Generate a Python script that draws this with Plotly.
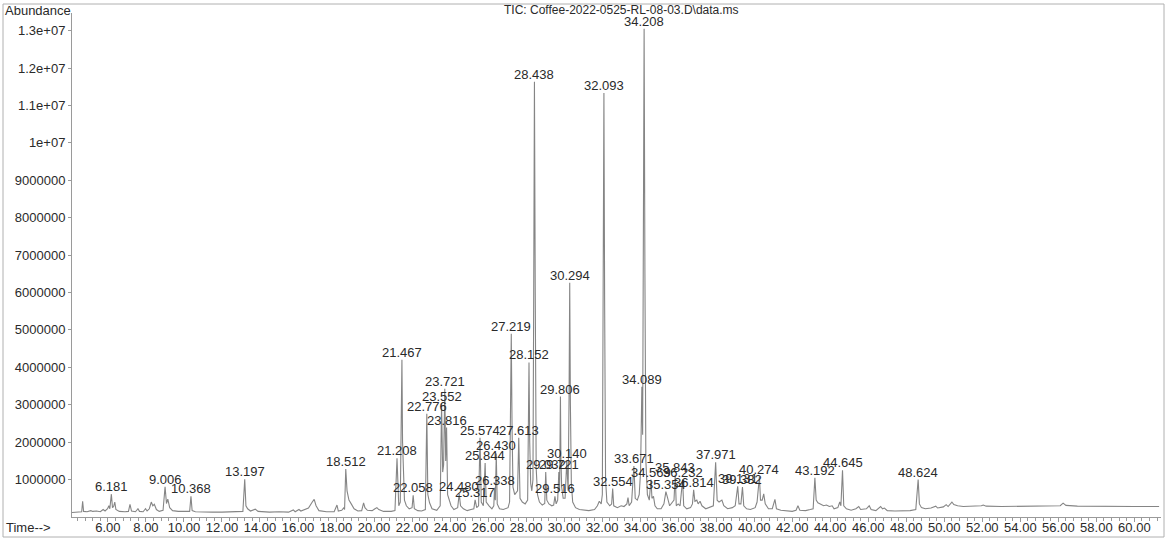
import plotly.graph_objects as go

# ---- chromatogram vertices: (retention time [min], abundance) ----
seg_04_21 = [
    (4.11, 0.12e6), (4.50, 0.13e6), (4.62, 0.14e6), (4.67, 0.42e6), (4.72, 0.15e6), (4.90, 0.14e6),
    (5.10, 0.17e6), (5.20, 0.15e6), (5.40, 0.16e6), (5.60, 0.14e6), (5.75, 0.20e6), (5.85, 0.16e6),
    (5.98, 0.22e6), (6.05, 0.30e6), (6.10, 0.22e6), (6.181, 0.61e6), (6.24, 0.25e6), (6.30, 0.28e6),
    (6.36, 0.40e6), (6.42, 0.20e6), (6.60, 0.15e6), (6.90, 0.14e6), (7.08, 0.15e6), (7.16, 0.34e6),
    (7.24, 0.16e6), (7.45, 0.14e6), (7.58, 0.22e6), (7.66, 0.15e6), (7.85, 0.14e6), (7.98, 0.22e6),
    (8.06, 0.16e6), (8.18, 0.22e6), (8.28, 0.40e6), (8.36, 0.30e6), (8.44, 0.34e6), (8.55, 0.20e6),
    (8.70, 0.15e6), (8.90, 0.18e6), (9.006, 0.81e6), (9.08, 0.36e6), (9.15, 0.48e6), (9.25, 0.25e6),
    (9.40, 0.17e6), (9.70, 0.15e6), (10.00, 0.14e6), (10.30, 0.15e6), (10.368, 0.55e6), (10.43, 0.17e6),
    (10.60, 0.14e6), (11.00, 0.13e6), (11.50, 0.13e6), (12.00, 0.13e6), (12.50, 0.14e6), (12.85, 0.15e6),
    (13.10, 0.15e6), (13.197, 1.01e6), (13.26, 0.30e6), (13.35, 0.22e6), (13.50, 0.16e6), (13.75, 0.21e6),
    (13.90, 0.15e6), (14.50, 0.13e6), (15.00, 0.14e6), (15.50, 0.13e6), (15.75, 0.19e6), (15.85, 0.14e6),
    (16.05, 0.20e6), (16.15, 0.16e6), (16.35, 0.20e6), (16.55, 0.24e6), (16.75, 0.40e6), (16.85, 0.47e6),
    (16.95, 0.30e6), (17.10, 0.17e6), (17.50, 0.14e6), (17.90, 0.14e6), (18.05, 0.32e6), (18.12, 0.16e6),
    (18.30, 0.18e6), (18.40, 0.24e6), (18.45, 0.20e6), (18.512, 1.28e6), (18.58, 0.70e6), (18.68, 0.45e6),
    (18.80, 0.35e6), (18.95, 0.22e6), (19.15, 0.16e6), (19.35, 0.17e6), (19.45, 0.38e6), (19.52, 0.25e6),
    (19.65, 0.18e6), (19.90, 0.17e6), (20.05, 0.22e6), (20.15, 0.25e6), (20.25, 0.20e6), (20.50, 0.15e6),
    (20.90, 0.15e6),
]
seg_21_27 = [
    (21.10, 0.17e6), (21.208, 1.57e6), (21.30, 0.30e6), (21.38, 0.40e6), (21.43, 2.20e6), (21.467, 4.20e6),
    (21.50, 2.00e6), (21.54, 1.00e6),
    (21.60, 0.45e6), (21.70, 0.30e6), (21.85, 0.22e6), (22.00, 0.25e6), (22.058, 0.58e6), (22.12, 0.22e6),
    (22.30, 0.17e6), (22.50, 0.16e6), (22.70, 0.20e6), (22.776, 2.76e6), (22.83, 0.60e6), (22.92, 0.38e6),
    (23.05, 0.22e6), (23.30, 0.18e6), (23.48, 0.30e6), (23.552, 3.03e6), (23.61, 1.20e6), (23.66, 1.40e6),
    (23.721, 3.43e6), (23.77, 1.50e6), (23.816, 2.39e6), (23.87, 0.60e6), (23.95, 0.45e6), (24.05, 0.30e6),
    (24.20, 0.20e6), (24.40, 0.25e6), (24.480, 0.62e6), (24.55, 0.30e6), (24.70, 0.22e6), (24.90, 0.17e6),
    (25.10, 0.20e6), (25.25, 0.22e6), (25.317, 0.46e6), (25.40, 0.25e6), (25.50, 0.30e6), (25.574, 2.12e6),
    (25.64, 0.40e6), (25.75, 0.30e6), (25.844, 1.44e6), (25.90, 0.40e6), (26.05, 0.30e6), (26.20, 0.22e6),
    (26.30, 0.30e6), (26.338, 0.78e6), (26.38, 0.45e6), (26.430, 1.70e6), (26.48, 0.35e6), (26.60, 0.22e6),
    (26.80, 0.20e6),
]
seg_27_32 = [
    (27.05, 0.25e6), (27.13, 0.40e6), (27.18, 2.60e6), (27.219, 4.90e6), (27.26, 2.40e6), (27.31, 0.80e6),
    (27.40, 0.60e6), (27.55, 0.70e6),
    (27.613, 2.12e6), (27.68, 0.50e6), (27.80, 0.40e6), (27.95, 0.35e6), (28.08, 0.45e6), (28.12, 2.20e6),
    (28.152, 4.13e6), (28.19, 2.00e6),
    (28.24, 0.90e6), (28.30, 0.70e6), (28.36, 1.00e6), (28.40, 6.00e6), (28.438, 11.63e6), (28.48, 6.00e6),
    (28.53, 1.30e6), (28.60, 0.60e6),
    (28.70, 0.40e6), (28.85, 0.32e6), (28.98, 0.36e6), (29.032, 1.20e6), (29.09, 0.45e6), (29.20, 0.35e6),
    (29.35, 0.30e6), (29.45, 0.32e6), (29.516, 0.55e6), (29.58, 0.35e6), (29.66, 0.45e6), (29.721, 1.20e6),
    (29.76, 0.70e6), (29.78, 1.70e6), (29.806, 3.22e6), (29.83, 1.60e6), (29.87, 0.80e6), (29.95, 0.50e6),
    (30.05, 0.50e6), (30.140, 1.50e6),
    (30.21, 0.70e6), (30.26, 3.20e6), (30.294, 6.26e6), (30.33, 3.00e6), (30.38, 0.90e6), (30.45, 0.40e6),
    (30.60, 0.25e6), (30.80, 0.20e6),
    (31.00, 0.18e6), (31.30, 0.17e6), (31.60, 0.20e6), (31.75, 0.30e6),
]
seg_32_35 = [
    (31.85, 0.42e6), (31.95, 0.35e6), (32.01, 0.60e6), (32.05, 6.00e6), (32.093, 11.33e6), (32.13, 5.80e6),
    (32.18, 1.00e6), (32.25, 0.40e6),
    (32.40, 0.30e6), (32.50, 0.35e6), (32.554, 0.76e6), (32.61, 0.30e6), (32.80, 0.25e6), (33.00, 0.30e6),
    (33.15, 0.28e6), (33.30, 0.35e6), (33.36, 0.52e6), (33.42, 0.30e6), (33.55, 0.40e6), (33.671, 1.36e6),
    (33.74, 0.50e6), (33.85, 0.45e6), (33.95, 0.60e6), (34.02, 1.20e6), (34.06, 2.40e6), (34.089, 3.48e6),
    (34.13, 2.20e6), (34.16, 6.50e6), (34.208, 13.05e6), (34.25, 6.50e6), (34.30, 1.50e6), (34.38, 0.60e6),
    (34.48, 0.45e6), (34.569, 1.00e6), (34.62, 0.50e6),
    (34.70, 0.55e6), (34.78, 0.30e6),
]
seg_35_49 = [
    (34.90, 0.22e6), (35.10, 0.22e6), (35.25, 0.35e6), (35.354, 0.68e6), (35.45, 0.50e6), (35.55, 0.30e6),
    (35.78, 0.45e6), (35.843, 1.13e6), (35.90, 0.30e6), (36.00, 0.35e6), (36.10, 0.30e6), (36.232, 1.00e6),
    (36.29, 0.30e6), (36.45, 0.22e6), (36.65, 0.25e6), (36.75, 0.35e6), (36.814, 0.73e6), (36.88, 0.42e6),
    (36.98, 0.45e6), (37.05, 0.35e6), (37.15, 0.42e6), (37.25, 0.30e6), (37.45, 0.22e6), (37.65, 0.25e6),
    (37.85, 0.30e6), (37.971, 1.46e6), (38.05, 0.45e6), (38.15, 0.40e6), (38.30, 0.45e6), (38.40, 0.30e6),
    (38.60, 0.22e6), (38.85, 0.25e6), (39.00, 0.30e6), (39.131, 0.82e6), (39.20, 0.35e6), (39.30, 0.35e6),
    (39.382, 0.80e6), (39.45, 0.30e6), (39.60, 0.22e6), (39.80, 0.20e6), (40.05, 0.25e6), (40.15, 0.40e6),
    (40.274, 1.08e6), (40.33, 0.45e6), (40.42, 0.45e6), (40.50, 0.62e6), (40.58, 0.35e6), (40.75, 0.22e6),
    (40.95, 0.22e6), (41.09, 0.47e6), (41.17, 0.22e6), (41.40, 0.18e6), (41.70, 0.16e6), (42.00, 0.15e6),
    (42.20, 0.18e6), (42.30, 0.30e6), (42.40, 0.18e6), (42.70, 0.17e6), (42.95, 0.20e6), (43.10, 0.22e6),
    (43.192, 1.05e6), (43.26, 0.45e6), (43.35, 0.38e6), (43.50, 0.35e6), (43.65, 0.30e6), (43.80, 0.32e6),
    (43.95, 0.28e6), (44.10, 0.30e6), (44.20, 0.22e6), (44.40, 0.25e6), (44.50, 0.40e6), (44.56, 0.30e6),
    (44.645, 1.25e6), (44.71, 0.30e6), (44.85, 0.22e6), (45.10, 0.18e6), (45.35, 0.22e6), (45.50, 0.28e6),
    (45.60, 0.20e6), (45.90, 0.22e6), (46.05, 0.30e6), (46.15, 0.20e6), (46.40, 0.17e6), (46.65, 0.28e6),
    (46.75, 0.22e6), (46.85, 0.24e6), (47.00, 0.17e6), (47.40, 0.16e6), (47.80, 0.16e6), (48.20, 0.17e6),
    (48.50, 0.20e6), (48.624, 1.00e6), (48.69, 0.35e6), (48.80, 0.25e6), (49.00, 0.22e6),
]
seg_49_61 = [
    (49.30, 0.24e6), (49.55, 0.29e6), (49.65, 0.24e6), (49.95, 0.27e6), (50.10, 0.33e6), (50.20, 0.28e6),
    (50.40, 0.40e6), (50.50, 0.33e6), (50.70, 0.30e6), (51.00, 0.28e6), (51.50, 0.28e6), (51.95, 0.30e6),
    (52.05, 0.32e6), (52.20, 0.29e6), (53.00, 0.28e6), (54.00, 0.28e6), (54.50, 0.30e6), (54.70, 0.29e6),
    (55.50, 0.28e6), (56.10, 0.30e6), (56.25, 0.37e6), (56.40, 0.31e6), (57.00, 0.29e6), (58.00, 0.28e6),
    (59.00, 0.28e6), (60.00, 0.28e6), (61.30, 0.28e6),
]

# ---- labelled peaks: retention time label and apex abundance ----
label_rt = ["6.181", "9.006", "10.368", "13.197", "18.512", "21.208", "21.467", "22.058", "22.776",
            "23.552", "23.721", "23.816", "24.480", "25.317", "25.574", "25.844", "26.338", "26.430",
            "27.219", "27.613", "28.152", "28.438", "29.032", "29.721", "29.516", "29.806", "30.140",
            "30.294", "32.093", "32.554", "33.671", "34.089", "34.208", "34.569", "35.354", "35.843",
            "36.232", "36.814", "37.971", "39.131", "39.382", "40.274", "43.192", "44.645", "48.624"]
label_ab = [0.61e6, 0.81e6, 0.55e6, 1.01e6, 1.28e6, 1.57e6, 4.20e6, 0.58e6, 2.76e6,
            3.03e6, 3.43e6, 2.39e6, 0.62e6, 0.46e6, 2.12e6, 1.44e6, 0.78e6, 1.70e6,
            4.90e6, 2.12e6, 4.13e6, 11.63e6, 1.20e6, 1.20e6, 0.55e6, 3.22e6, 1.50e6,
            6.26e6, 11.33e6, 0.76e6, 1.36e6, 3.48e6, 13.05e6, 1.00e6, 0.68e6, 1.13e6,
            1.00e6, 0.73e6, 1.46e6, 0.82e6, 0.80e6, 1.08e6, 1.05e6, 1.25e6, 1.00e6]

x_ticks = [6, 8, 10, 12, 14, 16, 18, 20, 22, 24, 26, 28, 30, 32, 34, 36, 38, 40, 42, 44, 46, 48,
           50, 52, 54, 56, 58, 60]
y_ticks = [1e6, 2e6, 3e6, 4e6, 5e6, 6e6, 7e6, 8e6, 9e6, 1e7, 1.1e7, 1.2e7, 1.3e7]
y_ticktext = ["1000000", "2000000", "3000000", "4000000", "5000000", "6000000", "7000000",
              "8000000", "9000000", "1e+07", "1.1e+07", "1.2e+07", "1.3e+07"]

title_text = "TIC: Coffee-2022-0525-RL-08-03.D\\data.ms"

pts = seg_04_21 + seg_21_27 + seg_27_32 + seg_32_35 + seg_35_49 + seg_49_61
rt = [p[0] for p in pts]
ab = [p[1] for p in pts]

FONT = "Liberation Sans, Arial, sans-serif"
TXT = "#2a2a2a"
AX = "#9a9a9a"
FS = 13

fig = go.Figure()
fig.add_trace(go.Scatter(x=rt, y=ab, mode="lines",
                         line=dict(color="#858585", width=1.1), hoverinfo="skip",
                         showlegend=False))

annotations = []
for lab, h in zip(label_rt, label_ab):
    annotations.append(dict(x=float(lab), y=h, text=lab, showarrow=False,
                            xanchor="center", yanchor="bottom", yshift=-2,
                            font=dict(family=FONT, size=FS, color=TXT)))

L, R, T, B = 72, 6, 13, 22
W, H = 1167, 539
pw, ph = W - L - R, H - T - B


def px(xp):
    return (xp - L) / pw


def py(yp):
    return (H - B - yp) / ph


annotations += [
    dict(x=px(3), y=py(10), xref="paper", yref="paper", text="Abundance", showarrow=False,
         xanchor="left", yanchor="middle", font=dict(family=FONT, size=FS, color=TXT)),
    dict(x=px(621), y=py(10), xref="paper", yref="paper", text=title_text, showarrow=False,
         xanchor="center", yanchor="middle", font=dict(family=FONT, size=12, color=TXT)),
    dict(x=px(4), y=py(527), xref="paper", yref="paper", text="Time-->", showarrow=False,
         xanchor="left", yanchor="middle", font=dict(family=FONT, size=FS, color=TXT)),
]

fig.update_layout(
    width=W, height=H,
    margin=dict(l=L, r=R, t=T, b=B, autoexpand=False),
    paper_bgcolor="white", plot_bgcolor="white",
    annotations=annotations,
    shapes=[dict(type="rect", xref="paper", yref="paper",
                 x0=px(3), x1=px(1164), y0=py(537), y1=py(4),
                 line=dict(color="#b0b0b0", width=1), layer="below")],
    xaxis=dict(range=[4.11, 61.4], tickmode="array", tickvals=x_ticks,
               ticktext=[f"{v:.2f}" for v in x_ticks], automargin=False,
               ticks="outside", ticklen=4, tickcolor=AX, showline=True, linecolor=AX,
               showgrid=False, zeroline=False, ticklabelstandoff=-6,
               tickfont=dict(family=FONT, size=FS, color=TXT),
               minor=dict(tickmode="linear", tick0=4.0, dtick=0.4, ticks="outside",
                          ticklen=3, tickcolor=AX)),
    yaxis=dict(range=[0, 13.47e6], tickmode="array", tickvals=y_ticks, ticktext=y_ticktext,
               ticks="outside", ticklen=3, tickcolor=AX, showline=True, linecolor=AX,
               showgrid=False, zeroline=False, automargin=False,
               tickfont=dict(family=FONT, size=FS, color=TXT)),
)

fig.write_html("out.html")
